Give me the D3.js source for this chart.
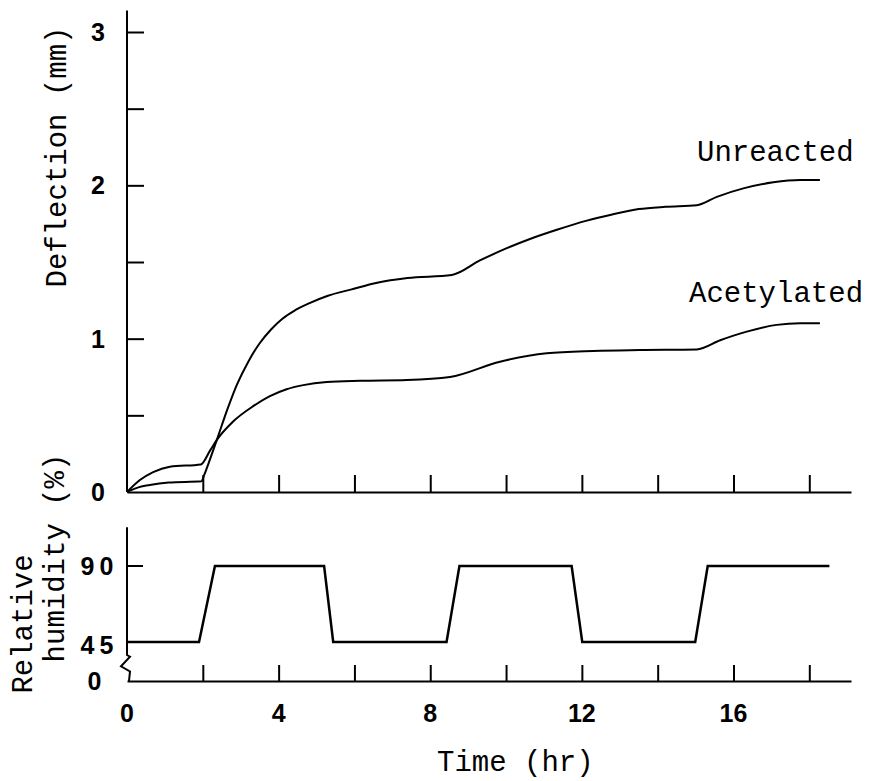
<!DOCTYPE html>
<html lang="en">
<head>
    <meta charset="UTF-8">
    <title>Deflection and Relative Humidity vs Time</title>
    <script src="https://d3js.org/d3.v7.min.js"></script>
    <style>
        body { margin: 0; background: #fff; }
        .lbl { font-family: "Liberation Mono", "DejaVu Sans Mono", monospace; font-size: 29px; fill: #000; }
        .num { font-family: "Liberation Sans", Arial, sans-serif; font-weight: bold; font-size: 25px; fill: #000; }
        .ax path, .ax line { stroke: #000; stroke-width: 2; }
    </style>
</head>
<body>
    <svg id="chart" width="875" height="781"></svg>

    <script>
        // data
        const unreactedT = [0, 0.3, 0.6, 1.1, 1.97, 2.02, 2.37, 2.65, 2.9, 3.2, 3.5, 3.8, 4.1, 4.4, 4.8, 5.3, 5.9, 6.6, 7.4, 8.57,
                            9.31, 10.02, 10.63, 11.34, 12.13, 12.8, 13.5, 14.2, 15.03, 15.56, 16.26, 17.05, 17.76, 18.28];
        const unreactedV = [0, 0.03, 0.046, 0.062, 0.07, 0.1, 0.34, 0.54, 0.7, 0.85, 0.97, 1.06, 1.13, 1.18, 1.23, 1.28, 1.32, 1.365, 1.395, 1.415,
                            1.51, 1.59, 1.65, 1.71, 1.77, 1.81, 1.845, 1.86, 1.87, 1.925, 1.98, 2.02, 2.035, 2.035];
        const acetylT = [0, 0.34, 0.69, 1.13, 1.95, 2.19, 2.37, 2.8, 3.33, 3.77, 4.21, 4.65, 5.27, 6.15, 7.38, 8.52,
                         9.84, 11.07, 12.3, 13.53, 15.03, 15.65, 16.35, 17.14, 17.76, 18.28];
        const acetylV = [0, 0.078, 0.13, 0.165, 0.18, 0.27, 0.34, 0.46, 0.56, 0.625, 0.67, 0.697, 0.717, 0.725, 0.73, 0.75,
                         0.85, 0.905, 0.92, 0.926, 0.93, 0.99, 1.046, 1.09, 1.1, 1.1];
        const humT = [0, 1.9, 2.32, 5.2, 5.44, 8.43, 8.77, 11.73, 12.01, 14.99, 15.32, 18.53];
        const humV = [45, 45, 90, 90, 45, 45, 90, 90, 45, 45, 90, 90];

        const timeTicks = [2, 4, 6, 8, 10, 12, 14, 16, 18];
        const timeLabels = [0, 4, 8, 12, 16];
        const deflTicks = [0.5, 1, 1.5, 2, 2.5, 3];
        const deflLabels = [0, 1, 2, 3];
        const humLabels = [0, 45, 90];

        const svg = d3.select("#chart");

        const x = d3.scaleLinear().domain([0, 19.1]).range([127, 851]);
        const yTop = d3.scaleLinear().domain([0, 3]).range([492, 32]);
        // broken axis: 0 to 45 squeezed
        const yBot = d3.scaleLinear().domain([0, 45, 90]).range([681, 642, 566]);

        // ---- top panel axes
        svg.append("g").attr("class", "ax").attr("transform", `translate(0,${yTop(0)})`)
            .call(d3.axisBottom(x).tickValues(timeTicks).tickSize(-17).tickSizeOuter(0).tickFormat(""));
        const gTopY = svg.append("g").attr("class", "ax").attr("transform", `translate(${x(0)},0)`)
            .call(d3.axisLeft(yTop).tickValues(deflTicks).tickSize(-17).tickFormat(""));
        gTopY.select(".domain").remove();
        svg.append("line").attr("x1", x(0)).attr("x2", x(0)).attr("y1", yTop(0)).attr("y2", yTop(3.14))
            .attr("stroke", "#000").attr("stroke-width", 2);

        svg.selectAll(".deflLbl").data(deflLabels).enter().append("text")
            .attr("class", "num").attr("x", 98).attr("y", d => yTop(d)).attr("dy", "0.36em")
            .attr("text-anchor", "middle").text(d => d);

        // ---- curves
        const line = d3.line().x(d => x(d[0])).y(d => yTop(d[1])).curve(d3.curveMonotoneX);
        svg.append("path").datum(d3.zip(unreactedT, unreactedV)).attr("d", line)
            .attr("fill", "none").attr("stroke", "#000").attr("stroke-width", 2);
        svg.append("path").datum(d3.zip(acetylT, acetylV)).attr("d", line)
            .attr("fill", "none").attr("stroke", "#000").attr("stroke-width", 2);

        svg.append("text").attr("class", "lbl").attr("x", 697).attr("y", 161).text("Unreacted");
        svg.append("text").attr("class", "lbl").attr("x", 689).attr("y", 302).text("Acetylated");

        // ---- bottom panel axes
        svg.append("g").attr("class", "ax").attr("transform", `translate(0,${yBot(0)})`)
            .call(d3.axisBottom(x).tickValues(timeTicks).tickSize(-16).tickSizeOuter(0).tickFormat(""));
        const ax0 = x(0);
        svg.append("path")
            .attr("d", `M${ax0},${yBot(113)} L${ax0},${yBot(30)} L${ax0 + 3},${yBot(28)} L${ax0 - 6},${yBot(17)} L${ax0 + 3},${yBot(11)} L${ax0 + 2},${yBot(0)}`)
            .attr("fill", "none").attr("stroke", "#000").attr("stroke-width", 2);
        svg.append("line").attr("x1", ax0).attr("x2", ax0 + 16).attr("y1", yBot(90)).attr("y2", yBot(90))
            .attr("stroke", "#000").attr("stroke-width", 2);

        svg.selectAll(".humLbl").data(humLabels).enter().append("text")
            .attr("class", "num").attr("x", 97).attr("y", d => yBot(d) + (d === 45 ? 3 : 0)).attr("dy", "0.36em")
            .attr("text-anchor", "middle").style("letter-spacing", "5px").attr("dx", d => d > 0 ? 2.5 : 0).text(d => d);

        svg.selectAll(".timeLbl").data(timeLabels).enter().append("text")
            .attr("class", "num").attr("x", d => x(d)).attr("y", 713).attr("dy", "0.36em")
            .attr("text-anchor", "middle").text(d => d);

        // humidity trace
        const humLine = d3.line().x(d => x(d[0])).y(d => yBot(d[1]));
        svg.append("path").datum(d3.zip(humT, humV)).attr("d", humLine)
            .attr("fill", "none").attr("stroke", "#000").attr("stroke-width", 2.5);

        // ---- titles
        svg.append("text").attr("class", "lbl").attr("x", 437).attr("y", 771).text("Time (hr)");
        svg.append("text").attr("class", "lbl").attr("text-anchor", "middle")
            .attr("transform", "translate(66,157) rotate(-90)").text("Deflection (mm)");
        svg.append("text").attr("class", "lbl").attr("text-anchor", "middle")
            .attr("transform", "translate(64,558) rotate(-90)").text("humidity (%)");
        svg.append("text").attr("class", "lbl").attr("text-anchor", "middle")
            .attr("transform", "translate(32,624) rotate(-90)").text("Relative");
    </script>
</body>
</html>
